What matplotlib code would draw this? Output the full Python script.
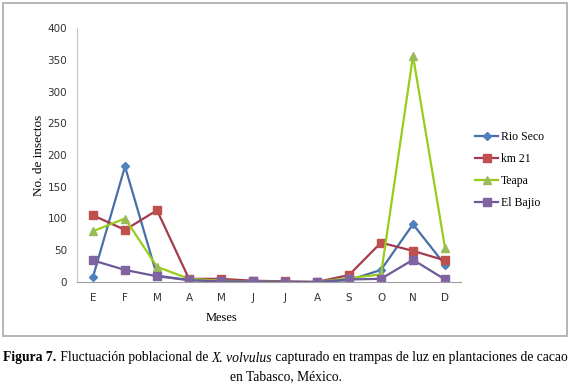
import matplotlib
matplotlib.use("Agg")
import matplotlib.pyplot as plt
from matplotlib.patches import Rectangle

meses = ["E", "F", "M", "A", "M", "J", "J", "A", "S", "O", "N", "D"]
rio_seco = [8, 182, 10, 3, 1, 1, 0, 0, 3, 19, 91, 27]
km21 = [105, 82, 113, 5, 5, 2, 1, 0, 11, 62, 49, 34]
teapa = [80, 100, 24, 5, 2, 1, 0, 0, 6, 12, 356, 54]
el_bajio = [34, 19, 9, 3, 1, 1, 0, 0, 4, 5, 35, 4]

W, H = 571, 387
fig = plt.figure(figsize=(W / 100, H / 100), dpi=100)
fig.patch.set_facecolor("white")

# chart border
fig.patches.append(Rectangle((3 / W, 1 - 336 / H), 564 / W, 333 / H,
                             transform=fig.transFigure, fill=False,
                             edgecolor="#b5b5b5", linewidth=1.4))

ax = fig.add_axes([77 / W, 1 - 282 / H, 384 / W, 254 / H])
x = range(len(meses))
ax.plot(x, rio_seco, color="#4a6ea8", marker="D", markersize=4.5,
        markerfacecolor="#4f81bd", markeredgecolor="#4f81bd", lw=1.6, label="Rio Seco")
ax.plot(x, km21, color="#a33b4e", marker="s", markersize=6,
        markerfacecolor="#c0504d", markeredgecolor="#c0504d", lw=1.6, label="km 21")
ax.plot(x, teapa, color="#99cc1a", marker="^", markersize=6,
        markerfacecolor="#9bbb59", markeredgecolor="#9bbb59", lw=1.6, label="Teapa")
ax.plot(x, el_bajio, color="#6a5a98", marker="s", markersize=6,
        markerfacecolor="#8064a2", markeredgecolor="#8064a2", lw=1.6, label="El Bajio")

ax.set_xlim(-0.5, 11.5)
ax.set_ylim(0, 400)
ax.set_yticks(range(0, 401, 50))
ax.set_xticks(list(x))
ax.set_xticklabels(meses)
for s in ["top", "right"]:
    ax.spines[s].set_visible(False)
ax.spines["left"].set_color("#c8c8c8")
ax.spines["bottom"].set_color("#a0a0a0")
ax.tick_params(length=0, labelsize=7.5, labelcolor="#333333", pad=8)
ax.tick_params(axis="y", pad=7)
for t in ax.get_xticklabels() + ax.get_yticklabels():
    t.set_family("DejaVu Sans")

fig.text(39 / W, 1 - 155 / H, "No. de insectos", rotation=90, ha="center", va="center",
         family="Liberation Serif", fontsize=9.5)
fig.text(222 / W, 1 - 318 / H, "Meses", ha="center", va="center",
         family="Liberation Serif", fontsize=9)

leg = ax.legend(loc="center left", bbox_to_anchor=(470 / W, 1 - 170 / H),
                bbox_transform=fig.transFigure, frameon=False,
                prop={"family": "Liberation Serif", "size": 8.5},
                handlelength=2.0, handletextpad=0.2, labelspacing=0.85, borderaxespad=0)

# caption, built piece by piece
fig.canvas.draw()
r = fig.canvas.get_renderer()
pieces = [("Figura 7.", "bold", "normal"),
          (" Fluctuación poblacional de ", "normal", "normal"),
          ("X. volvulus", "normal", "italic"),
          (" capturado en trampas de luz en plantaciones de cacao", "normal", "normal")]
texts = []
for s, w, st in pieces:
    t = fig.text(0, 1 - 358 / H, s, family="Liberation Serif", fontsize=9.8,
                 weight=w, style=st, va="center", ha="left")
    texts.append(t)
total = sum(t.get_window_extent(r).width for t in texts)
xpos = (W / 2 - total / 2) / W
for t in texts:
    t.set_x(xpos)
    xpos += t.get_window_extent(r).width / W
fig.text(0.5, 1 - 377 / H, "en Tabasco, México.", family="Liberation Serif",
         fontsize=9.8, ha="center", va="center")

fig.savefig("out.png", dpi=100)
